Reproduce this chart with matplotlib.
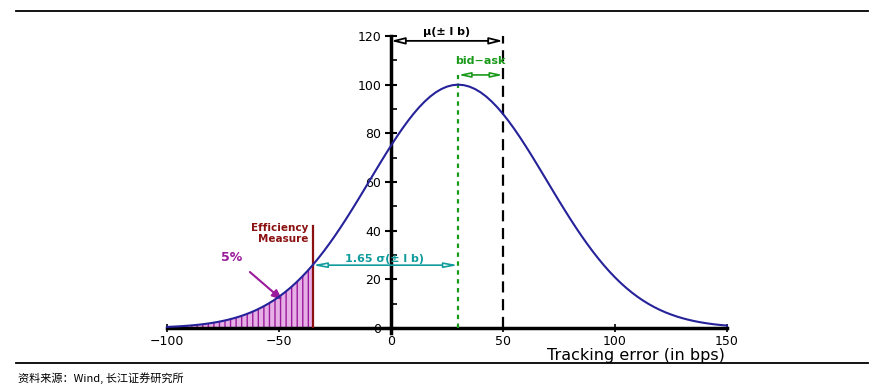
import matplotlib
matplotlib.use("Agg")
import matplotlib.pyplot as plt
import numpy as np

# tracking error (bps) and curve height, every 2.5 bps
te_bps = [-100 + 2.5 * i for i in range(101)]
curve = [0.44, 0.55, 0.67, 0.82, 0.99, 1.20, 1.44, 1.73, 2.07, 2.46,
         2.92, 3.45, 4.06, 4.75, 5.55, 6.44, 7.46, 8.60, 9.88, 11.29,
         12.86, 14.59, 16.49, 18.55, 20.80, 23.22, 25.82, 28.60, 31.55, 34.66,
         37.93, 41.34, 44.88, 48.53, 52.26, 56.05, 59.89, 63.72, 67.53, 71.29,
         74.95, 78.48, 81.85, 85.02, 87.97, 90.65, 93.04, 95.12, 96.85, 98.21,
         99.20, 99.80, 100.0, 99.80, 99.20, 98.21, 96.85, 95.12, 93.04, 90.65,
         87.97, 85.02, 81.85, 78.48, 74.95, 71.29, 67.53, 63.72, 59.89, 56.05,
         52.26, 48.53, 44.88, 41.34, 37.93, 34.66, 31.55, 28.60, 25.82, 23.22,
         20.80, 18.55, 16.49, 14.59, 12.86, 11.29, 9.88, 8.60, 7.46, 6.44,
         5.55, 4.75, 4.06, 3.45, 2.92, 2.46, 2.07, 1.73, 1.44, 1.20, 0.99]

x_ticks = [-100, -50, 0, 50, 100, 150]
y_ticks = [0, 20, 40, 60, 80, 100, 120]

mean_te = 30          # peak of the curve
bid_ask_edge = 50     # dashed black line
eff_measure = -35     # 1.65 sigma below the mean
eff_height = 25.82

blue = "#25229a"
purple = "#9b1a9b"
green = "#1a9a1a"
teal = "#109c9c"
darkred = "#8b1010"

plt.rcParams["hatch.linewidth"] = 1.0
plt.rcParams["hatch.color"] = purple

fig = plt.figure(figsize=(8.8, 3.85), dpi=100)
ax = fig.add_axes([167 / 880, 57 / 385, 560 / 880, 292 / 385])

x = np.array(te_bps)
y = np.array(curve)
ax.plot(x, y, color=blue, lw=1.5, zorder=4, clip_on=False)

mask = x <= eff_measure
ax.fill_between(x[mask], y[mask], 0, facecolor="#e6b0e6", edgecolor=purple,
                hatch="|||", lw=0, zorder=2)

ax.set_xlim(-100, 150)
ax.set_ylim(0, 120)

for s in ["top", "right"]:
    ax.spines[s].set_visible(False)
ax.spines["left"].set_position(("data", 0))
ax.spines["left"].set_linewidth(2.5)
ax.spines["bottom"].set_linewidth(2.5)
ax.spines["left"].set_bounds(-2, 120)

ax.set_xticks(x_ticks)
ax.set_yticks(y_ticks)
ax.set_yticks(range(10, 120, 20), minor=True)
ax.tick_params(axis="x", direction="inout", length=6, width=1.2, pad=2, labelsize=9)
ax.tick_params(axis="y", which="major", direction="inout", length=8, width=1.5, pad=3, labelsize=9)
ax.tick_params(axis="y", which="minor", direction="in", length=4, width=1.2)
ax.set_xticklabels(["\u2212100", "\u221250", "0", "50", "100", "150"])

ax.text(149, -11.2, "Tracking error (in bps)", ha="right", va="center", fontsize=11.5)

# mu(+-l b) double arrow and dashed line at 50
ax.plot([bid_ask_edge, bid_ask_edge], [0, 120], color="black", lw=1.6,
        ls=(0, (5, 3)), zorder=3)
ax.annotate("", xy=(0, 118), xytext=(bid_ask_edge, 118),
            arrowprops=dict(arrowstyle="<|-|>,head_length=0.8,head_width=0.2",
                            fc="white", ec="black", lw=1.3, shrinkA=0, shrinkB=0))
ax.text(25, 119.5, "\u03bc(\u00b1 l b)", ha="center", va="bottom", fontsize=8, fontweight="bold")

# bid-ask
ax.plot([mean_te, mean_te], [0, 104], color=green, lw=1.6, ls=(0, (2, 2)), zorder=3)
ax.annotate("", xy=(mean_te, 104), xytext=(bid_ask_edge, 104),
            arrowprops=dict(arrowstyle="<|-|>,head_length=0.7,head_width=0.15",
                            fc="white", ec=green, lw=1.2, shrinkA=0, shrinkB=0))
ax.text(40, 107.5, "bid\u2212ask", ha="center", va="bottom", fontsize=8,
        fontweight="bold", color=green)

# 1.65 sigma
ax.annotate("", xy=(eff_measure, eff_height), xytext=(mean_te, eff_height),
            arrowprops=dict(arrowstyle="<|-|>,head_length=0.8,head_width=0.15",
                            fc="white", ec=teal, lw=1.2, shrinkA=0, shrinkB=0))
ax.text(-3, 26.5, "1.65 \u03c3(\u00b1 l b)", ha="center", va="bottom", fontsize=8,
        fontweight="bold", color=teal)

# efficiency measure
ax.plot([eff_measure, eff_measure], [0, 42], color=darkred, lw=1.6, zorder=3)
ax.text(eff_measure - 2, 43, "Efficiency\nMeasure", ha="right", va="top", fontsize=7.5,
        fontweight="bold", color=darkred, linespacing=1.1)

# 5%
ax.text(-71, 29, "5%", ha="center", va="center", fontsize=9, fontweight="bold", color=purple)
ax.annotate("", xy=(-48.5, 11.5), xytext=(-63, 23),
            arrowprops=dict(arrowstyle="-|>,head_length=0.6,head_width=0.25",
                            fc=purple, ec=purple, lw=1.5, shrinkA=0, shrinkB=0))

# frame lines and source
fig.add_artist(plt.Line2D([16 / 880, 868 / 880], [1 - 11 / 385, 1 - 11 / 385],
                          color="black", lw=1.3))
fig.add_artist(plt.Line2D([16 / 880, 868 / 880], [1 - 363 / 385, 1 - 363 / 385],
                          color="black", lw=1.3))
fig.text(18 / 880, 1 - 378 / 385, "资料来源：Wind, 长江证券研究所", ha="left", va="center",
         fontsize=8, family=["Noto Sans CJK SC", "DejaVu Sans"])

fig.savefig("out.png", dpi=100)
